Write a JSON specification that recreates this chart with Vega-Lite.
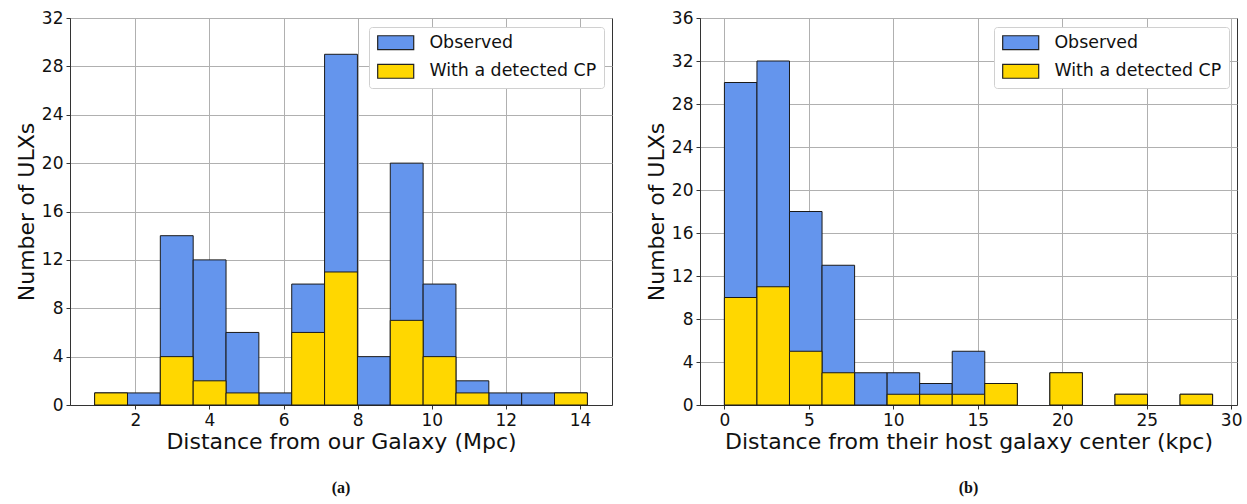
{
  "$schema": "https://vega.github.io/schema/vega-lite/v6.json",
  "background": "white",
  "padding": {"left": 14, "top": 8, "right": 2, "bottom": 2},
  "datasets": {
    "a": [
      {"series": "Observed", "start": 0.9, "end": 1.787, "count": 1},
      {"series": "Observed", "start": 1.787, "end": 2.673, "count": 1},
      {"series": "Observed", "start": 2.673, "end": 3.56, "count": 14},
      {"series": "Observed", "start": 3.56, "end": 4.447, "count": 12},
      {"series": "Observed", "start": 4.447, "end": 5.333, "count": 6},
      {"series": "Observed", "start": 5.333, "end": 6.22, "count": 1},
      {"series": "Observed", "start": 6.22, "end": 7.107, "count": 10},
      {"series": "Observed", "start": 7.107, "end": 7.993, "count": 29},
      {"series": "Observed", "start": 7.993, "end": 8.88, "count": 4},
      {"series": "Observed", "start": 8.88, "end": 9.767, "count": 20},
      {"series": "Observed", "start": 9.767, "end": 10.653, "count": 10},
      {"series": "Observed", "start": 10.653, "end": 11.54, "count": 2},
      {"series": "Observed", "start": 11.54, "end": 12.427, "count": 1},
      {"series": "Observed", "start": 12.427, "end": 13.313, "count": 1},
      {"series": "Observed", "start": 13.313, "end": 14.2, "count": 1},
      {"series": "With a detected CP", "start": 0.9, "end": 1.787, "count": 1},
      {"series": "With a detected CP", "start": 2.673, "end": 3.56, "count": 4},
      {"series": "With a detected CP", "start": 3.56, "end": 4.447, "count": 2},
      {"series": "With a detected CP", "start": 4.447, "end": 5.333, "count": 1},
      {"series": "With a detected CP", "start": 6.22, "end": 7.107, "count": 6},
      {"series": "With a detected CP", "start": 7.107, "end": 7.993, "count": 11},
      {"series": "With a detected CP", "start": 8.88, "end": 9.767, "count": 7},
      {"series": "With a detected CP", "start": 9.767, "end": 10.653, "count": 4},
      {"series": "With a detected CP", "start": 10.653, "end": 11.54, "count": 1},
      {"series": "With a detected CP", "start": 13.313, "end": 14.2, "count": 1}
    ],
    "b": [
      {"series": "Observed", "start": 0, "end": 1.927, "count": 30},
      {"series": "Observed", "start": 1.927, "end": 3.853, "count": 32},
      {"series": "Observed", "start": 3.853, "end": 5.78, "count": 18},
      {"series": "Observed", "start": 5.78, "end": 7.707, "count": 13},
      {"series": "Observed", "start": 7.707, "end": 9.633, "count": 3},
      {"series": "Observed", "start": 9.633, "end": 11.56, "count": 3},
      {"series": "Observed", "start": 11.56, "end": 13.487, "count": 2},
      {"series": "Observed", "start": 13.487, "end": 15.413, "count": 5},
      {"series": "Observed", "start": 15.413, "end": 17.34, "count": 2},
      {"series": "Observed", "start": 19.267, "end": 21.193, "count": 3},
      {"series": "Observed", "start": 23.12, "end": 25.047, "count": 1},
      {"series": "Observed", "start": 26.973, "end": 28.9, "count": 1},
      {"series": "With a detected CP", "start": 0, "end": 1.927, "count": 10},
      {"series": "With a detected CP", "start": 1.927, "end": 3.853, "count": 11},
      {"series": "With a detected CP", "start": 3.853, "end": 5.78, "count": 5},
      {"series": "With a detected CP", "start": 5.78, "end": 7.707, "count": 3},
      {"series": "With a detected CP", "start": 9.633, "end": 11.56, "count": 1},
      {"series": "With a detected CP", "start": 11.56, "end": 13.487, "count": 1},
      {"series": "With a detected CP", "start": 13.487, "end": 15.413, "count": 1},
      {"series": "With a detected CP", "start": 15.413, "end": 17.34, "count": 2},
      {"series": "With a detected CP", "start": 19.267, "end": 21.193, "count": 3},
      {"series": "With a detected CP", "start": 23.12, "end": 25.047, "count": 1},
      {"series": "With a detected CP", "start": 26.973, "end": 28.9, "count": 1}
    ]
  },
  "config": {
    "font": "DejaVu Sans",
    "view": {"stroke": "#333333", "strokeWidth": 1},
    "axis": {
      "labelFont": "DejaVu Sans",
      "titleFont": "DejaVu Sans",
      "labelFontSize": 17,
      "titleFontSize": 22,
      "titleFontWeight": "normal",
      "labelColor": "#111111",
      "titleColor": "#111111",
      "gridColor": "#b0b0b0",
      "gridWidth": 1,
      "domainColor": "#333333",
      "tickColor": "#333333",
      "tickSize": 4,
      "labelPadding": 3,
      "titlePadding": 3
    },
    "legend": {
      "labelFont": "DejaVu Sans",
      "labelFontSize": 17.4,
      "labelColor": "#111111",
      "labelLimit": 400,
      "orient": "top-right",
      "offset": 8.5,
      "padding": 7,
      "fillColor": "white",
      "strokeColor": "#d0d0d0",
      "cornerRadius": 3,
      "symbolType": "M-2.6,-1H2.6V1H-2.6Z",
      "symbolSize": 192,
      "symbolOffset": 11,
      "symbolStrokeColor": "#222222",
      "symbolStrokeWidth": 1.2,
      "symbolOpacity": 1,
      "labelOffset": 25,
      "rowPadding": 8.6,
      "title": null
    },
    "title": {"font": "Liberation Serif", "fontWeight": "bold", "fontSize": 16, "orient": "bottom", "color": "#111111", "offset": 28}
  },
  "spacing": 31,
  "hconcat": [
    {
      "width": 542,
      "height": 387,
      "title": {"text": "(a)"},
      "data": {"name": "a"},
      "layer": [
        {
          "transform": [{"filter": "datum.series === 'Observed'"}],
          "mark": {"type": "bar", "stroke": "#1a1a1a", "strokeWidth": 1, "opacity": 1},
          "encoding": {
            "x": {"field": "start", "type": "quantitative", "scale": {"domain": [0.235, 14.865], "nice": false, "zero": false}, "axis": {"values": [2, 4, 6, 8, 10, 12, 14], "title": "Distance from our Galaxy (Mpc)"}},
            "x2": {"field": "end"},
            "y": {"field": "count", "type": "quantitative", "scale": {"domain": [0, 32], "nice": false}, "axis": {"values": [0, 4, 8, 12, 16, 20, 24, 28, 32], "title": "Number of ULXs"}},
            "y2": {"datum": 0},
            "color": {"field": "series", "type": "nominal", "scale": {"domain": ["Observed", "With a detected CP"], "range": ["#6495ED", "#FFD700"]}}
          }
        },
        {
          "transform": [{"filter": "datum.series !== 'Observed'"}],
          "mark": {"type": "bar", "stroke": "#1a1a1a", "strokeWidth": 1, "opacity": 1},
          "encoding": {
            "x": {"field": "start", "type": "quantitative"},
            "x2": {"field": "end"},
            "y": {"field": "count", "type": "quantitative"},
            "y2": {"datum": 0},
            "color": {"field": "series", "type": "nominal", "scale": {"domain": ["Observed", "With a detected CP"], "range": ["#6495ED", "#FFD700"]}}
          }
        }
      ]
    },
    {
      "width": 537,
      "height": 387,
      "title": {"text": "(b)"},
      "data": {"name": "b"},
      "layer": [
        {
          "transform": [{"filter": "datum.series === 'Observed'"}],
          "mark": {"type": "bar", "stroke": "#1a1a1a", "strokeWidth": 1, "opacity": 1},
          "encoding": {
            "x": {"field": "start", "type": "quantitative", "scale": {"domain": [-1.445, 30.345], "nice": false, "zero": false}, "axis": {"values": [0, 5, 10, 15, 20, 25, 30], "title": "Distance from their host galaxy center (kpc)"}},
            "x2": {"field": "end"},
            "y": {"field": "count", "type": "quantitative", "scale": {"domain": [0, 36], "nice": false}, "axis": {"values": [0, 4, 8, 12, 16, 20, 24, 28, 32, 36], "title": "Number of ULXs"}},
            "y2": {"datum": 0},
            "color": {"field": "series", "type": "nominal", "scale": {"domain": ["Observed", "With a detected CP"], "range": ["#6495ED", "#FFD700"]}}
          }
        },
        {
          "transform": [{"filter": "datum.series !== 'Observed'"}],
          "mark": {"type": "bar", "stroke": "#1a1a1a", "strokeWidth": 1, "opacity": 1},
          "encoding": {
            "x": {"field": "start", "type": "quantitative"},
            "x2": {"field": "end"},
            "y": {"field": "count", "type": "quantitative"},
            "y2": {"datum": 0},
            "color": {"field": "series", "type": "nominal", "scale": {"domain": ["Observed", "With a detected CP"], "range": ["#6495ED", "#FFD700"]}}
          }
        }
      ],
      "resolve": {"scale": {"color": "shared"}}
    }
  ],
  "resolve": {"scale": {"color": "independent"}, "legend": {"color": "independent"}}
}
